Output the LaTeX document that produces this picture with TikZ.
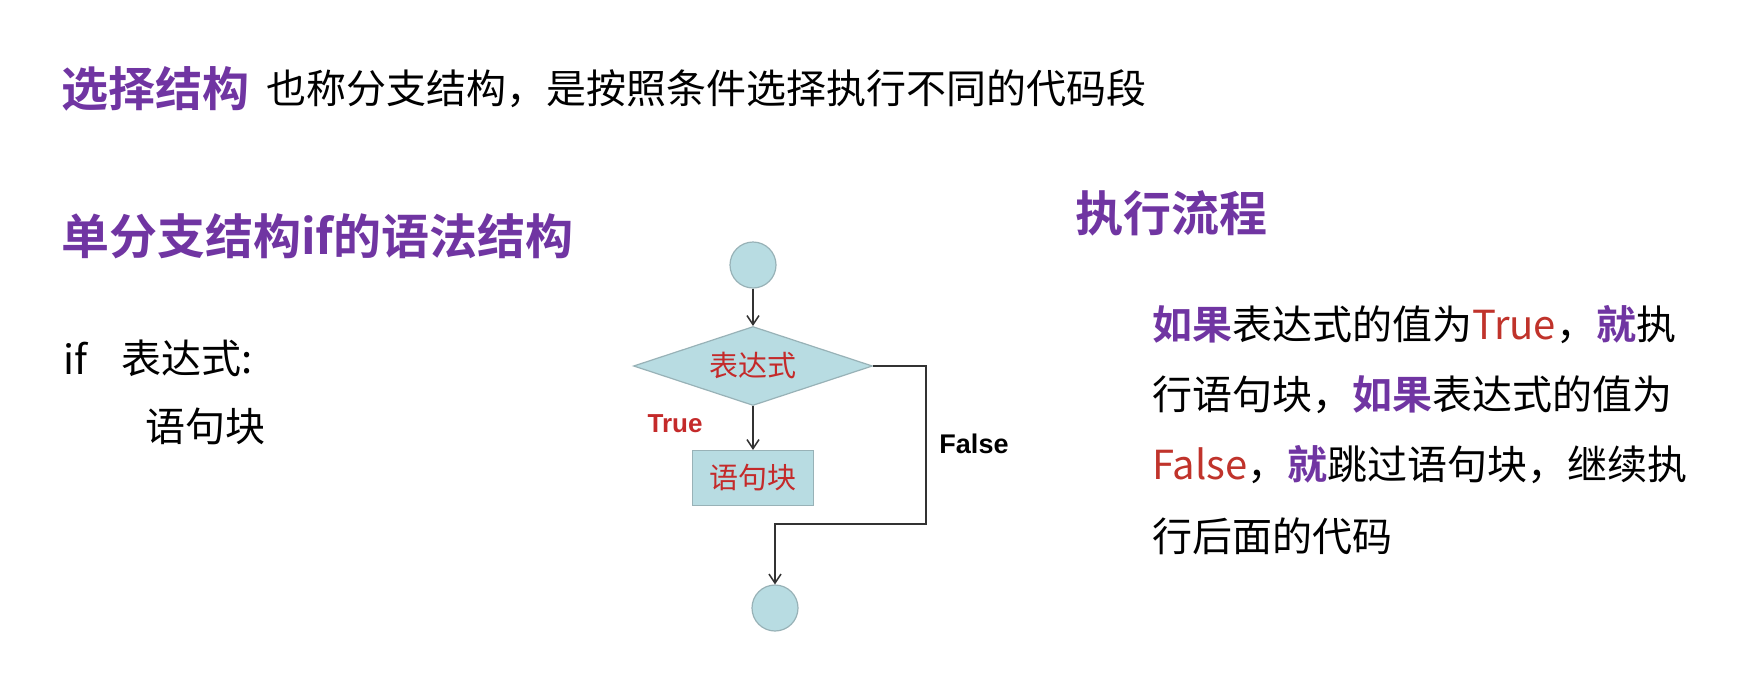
\documentclass[tikz,border=0pt]{standalone}
\usepackage{fontspec}
\setmainfont{Noto Sans CJK SC}[BoldFont={Noto Sans CJK SC Bold}]
\newfontfamily\latinbold{Liberation Sans}
\usetikzlibrary{shapes.geometric,arrows.meta}

\definecolor{headpurple}{HTML}{7035A2}
\definecolor{textred}{HTML}{C0332B}
\definecolor{flowfill}{HTML}{B8DCE2}
\definecolor{flowedge}{HTML}{98B2B7}
\definecolor{flowtext}{HTML}{C42A2A}
\definecolor{linegray}{HTML}{333333}

% emphasised words in the running text
\newcommand\kwhl[1]{{\bfseries\color{headpurple}#1}}
\newcommand\kwrd[1]{{\color{textred}#1}}

\begin{document}
\begin{tikzpicture}[x=1pt,y=-1pt,
  txt/.style={anchor=west,inner sep=0pt,font=\fontsize{40}{48}\selectfont},
  heading/.style={anchor=west,inner sep=0pt,text=headpurple,
    font=\bfseries\fontsize{48}{52}\selectfont},
  terminal/.style={circle,fill=flowfill,draw=flowedge,line width=1.2pt,
    minimum size=46pt,inner sep=0pt},
  decision/.style={diamond,aspect=3,fill=flowfill,draw=flowedge,line width=1.2pt,
    minimum width=239pt,minimum height=79pt,inner sep=0pt,text=flowtext,
    font=\fontsize{29}{30}\selectfont},
  process/.style={rectangle,fill=flowfill,draw=flowedge,line width=1.2pt,
    minimum width=121pt,minimum height=55pt,inner sep=0pt,text=flowtext,
    font=\fontsize{29}{30}\selectfont},
  flow/.style={draw=linegray,line width=1.5pt,
    -{Straight Barb[length=9pt,width=12pt,line width=1.5pt]}},
  branch/.style={inner sep=0pt,font=\latinbold\bfseries\fontsize{27}{30}\selectfont},
]
\useasboundingbox[fill=white] (0,0) rectangle (1741,678);

% title line
\node[heading,font=\bfseries\fontsize{47}{50}\selectfont] (title) at (61,89) {选择结构};
\node[txt] (subtitle) at (266,89) {也称分支结构，是按照条件选择执行不同的代码段};

% syntax of the single-branch if
\node[heading] (syntax) at (61,236) {单分支结构if的语法结构};
\node[txt] (kwif) at (63,358) {if};
\node[txt] (cond) at (121,358) {表达式:};
\node[txt] (body) at (145,426) {语句块};

% flow chart
\node[terminal] (start) at (753,265) {};
\node[decision] (dec) at (753,366) {表达式};
\node[process] (blk) at (753,478) {语句块};
\node[terminal] (stop) at (775,608) {};
\coordinate (fr) at (926,366);
\coordinate (fb) at (926,524);
\coordinate (fl) at (775,524);

\draw[flow] (start) -- (dec);
\draw[flow] (dec) -- (blk);
\draw[flow] (dec.east) -- (fr) -- (fb) -- (fl) -- (stop);

\node[branch,text=flowtext,font=\latinbold\bfseries\fontsize{26}{30}\selectfont] (ltrue) at (675,424) {True};
\node[branch] (lfalse) at (974,444) {False};

% execution flow
\node[heading] (flowhead) at (1075,213) {执行流程};
\node[txt] (p1) at (1152,325) {\kwhl{如果}表达式的值为\kwrd{True}，\kwhl{就}执};
\node[txt] (p2) at (1152,395) {行语句块，\kwhl{如果}表达式的值为};
\node[txt] (p3) at (1152,465) {\kwrd{False}，\kwhl{就}跳过语句块，继续执};
\node[txt] (p4) at (1152,536) {行后面的代码};
\end{tikzpicture}
\end{document}
